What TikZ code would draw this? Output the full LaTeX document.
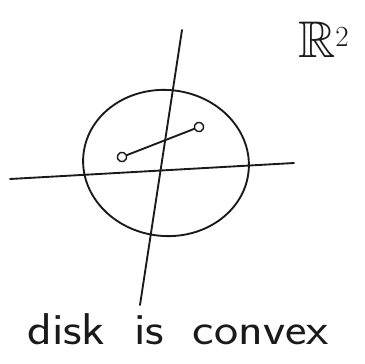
\documentclass[tikz,border=0pt]{standalone}
\usepackage{fontspec}
\usepackage{amssymb}
\usepackage{xcolor}
\usetikzlibrary{calc}
\definecolor{ink}{HTML}{1a1a1a}
\tikzset{
  pen/.style={line width=1.6pt, color=ink, line cap=round, line join=round},
  axisline/.style={pen},
  dot/.style={circle, draw=ink, line width=1.2pt, inner sep=0pt, minimum width=6pt, minimum height=8pt},
  every node/.append style={text=ink}
}

\begin{document}
\begin{tikzpicture}[x=0.03cm, y=-0.03cm]
\useasboundingbox (0,0) rectangle (365,363);
% axes
\coordinate (xl) at (10,179);
\coordinate (xr) at (294,163);
\coordinate (yt) at (182,30);
\coordinate (yb) at (140,305);
\draw[axisline] (xl) -- (xr);
\draw[axisline] (yt) -- (yb);
% the disk
\draw[pen, rotate around={-6:(166,163)}] (166,163) ellipse [x radius=83, y radius=73];
% two points and the segment between them
\node[dot, rotate=20] (p) at (122,157) {};
\node[dot, rotate=20] (q) at (199,127) {};
\draw[pen] (p) -- (q);
% labels
\node[anchor=base west, inner sep=0pt, font=\fontsize{44}{48}\selectfont] (plane) at (298,57) {$\mathbb{R}^2$};
\node[anchor=base, inner sep=0pt, font=\sffamily\fontsize{38}{42}\selectfont\addfontfeature{LetterSpace=18}, xscale=1.15] (caption) at (178,344) {disk\hspace{0.25em} is\hspace{0.25em} convex};
\end{tikzpicture}
\end{document}
